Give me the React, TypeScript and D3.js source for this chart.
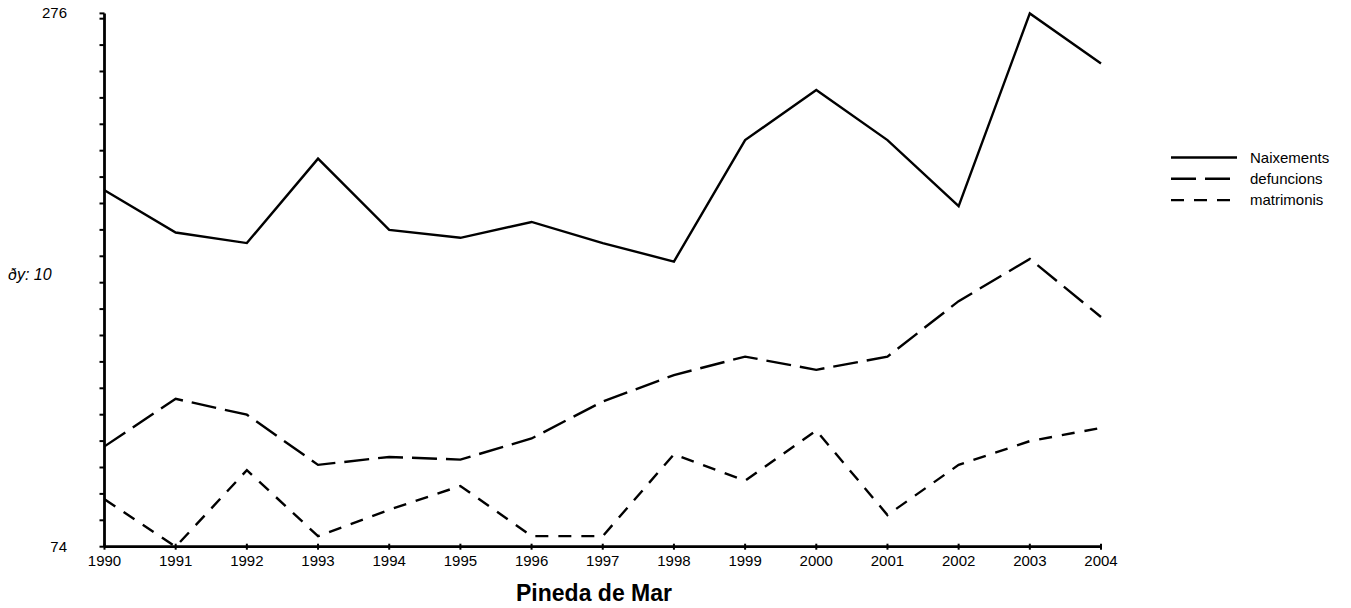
import * as d3 from "d3";
import { useEffect, useRef } from "react";

const years = [1990, 1991, 1992, 1993, 1994, 1995, 1996, 1997, 1998, 1999, 2000, 2001, 2002, 2003, 2004];
const naixements = [209, 193, 189, 221, 194, 191, 197, 189, 182, 228, 247, 228, 203, 276, 257];
const defuncions = [112, 130, 124, 105, 108, 107, 115, 129, 139, 146, 141, 146, 167, 183, 161];
const matrimonis = [92, 74, 103, 78, 88, 97, 78, 78, 109, 99, 118, 86, 105, 114, 119];
const seriesNames = ["Naixements", "defuncions", "matrimonis"];
const yMin = 74;
const yMax = 276;
const yStep = 10;
const title = "Pineda de Mar";

export default function App() {
    const svgRef = useRef<SVGSVGElement | null>(null);

    useEffect(() => {
        if (!svgRef.current) return;
        const svg = d3.select(svgRef.current);
        svg.selectAll("*").remove();

        const width = 1351;
        const height = 608;
        const left = 104.5;
        const right = 1101;
        const top = 13.4;
        const bottom = 546.7;
        const font = "Arial, 'Liberation Sans', sans-serif";

        const x = d3.scalePoint<number>().domain(years).range([left, right]);
        const y = d3.scaleLinear().domain([yMin, yMax]).range([bottom, top]);

        svg.attr("width", width).attr("height", height);

        const dashes = [null, "25,9", "13,10"];
        const allSeries = [naixements, defuncions, matrimonis];

        // lines
        const line = d3.line<number>()
            .x((_, i) => x(years[i])!)
            .y((d) => y(d));

        allSeries.forEach((s, k) => {
            svg.append("path")
                .datum(s)
                .attr("fill", "none")
                .attr("stroke", "black")
                .attr("stroke-width", 2.4)
                .attr("stroke-linejoin", "miter")
                .attr("stroke-dasharray", dashes[k])
                .attr("d", line);
        });

        // y axis
        svg.append("line")
            .attr("x1", left).attr("x2", left)
            .attr("y1", top).attr("y2", bottom)
            .attr("stroke", "black").attr("stroke-width", 2.8);

        const yTicks = d3.range(yMin, yMax, yStep).concat([yMax]);
        svg.selectAll(".ytick")
            .data(yTicks)
            .enter()
            .append("line")
            .attr("x1", left - 5).attr("x2", left)
            .attr("y1", (d) => y(d)).attr("y2", (d) => y(d))
            .attr("stroke", "black").attr("stroke-width", 2);

        svg.selectAll(".ylab")
            .data([yMin, yMax])
            .enter()
            .append("text")
            .attr("x", 67)
            .attr("y", (d) => y(d) + 5)
            .attr("text-anchor", "end")
            .style("font-family", font)
            .style("font-size", "15px")
            .text((d) => d);

        svg.append("text")
            .attr("x", 8)
            .attr("y", 280)
            .style("font-family", font)
            .style("font-size", "16px")
            .style("font-style", "italic")
            .text(`ðy: ${yStep}`);

        // x axis
        svg.append("line")
            .attr("x1", left).attr("x2", right)
            .attr("y1", bottom).attr("y2", bottom)
            .attr("stroke", "black").attr("stroke-width", 2.8);

        svg.selectAll(".xtick")
            .data(years)
            .enter()
            .append("line")
            .attr("x1", (d) => x(d)!).attr("x2", (d) => x(d)!)
            .attr("y1", bottom - 3).attr("y2", bottom + 3)
            .attr("stroke", "black").attr("stroke-width", 2);

        svg.selectAll(".xlab")
            .data(years)
            .enter()
            .append("text")
            .attr("x", (d) => x(d)!)
            .attr("y", 566)
            .attr("text-anchor", "middle")
            .style("font-family", font)
            .style("font-size", "15px")
            .text((d) => d);

        svg.append("text")
            .attr("x", 594)
            .attr("y", 601)
            .attr("text-anchor", "middle")
            .style("font-family", font)
            .style("font-size", "23px")
            .style("font-weight", "bold")
            .text(title);

        // legend
        const legend = svg.append("g");
        seriesNames.forEach((name, k) => {
            const ly = 157.5 + k * 21.3;
            legend.append("line")
                .attr("x1", 1171).attr("x2", 1237)
                .attr("y1", ly).attr("y2", ly)
                .attr("stroke", "black")
                .attr("stroke-width", 2.4)
                .attr("stroke-dasharray", dashes[k]);
            legend.append("text")
                .attr("x", 1250)
                .attr("y", ly + 5)
                .style("font-family", font)
                .style("font-size", "15px")
                .text(name);
        });
    }, []);

    return (
        <svg ref={svgRef} style={{ position: "absolute", left: 0, top: 0 }} />
    );
}
